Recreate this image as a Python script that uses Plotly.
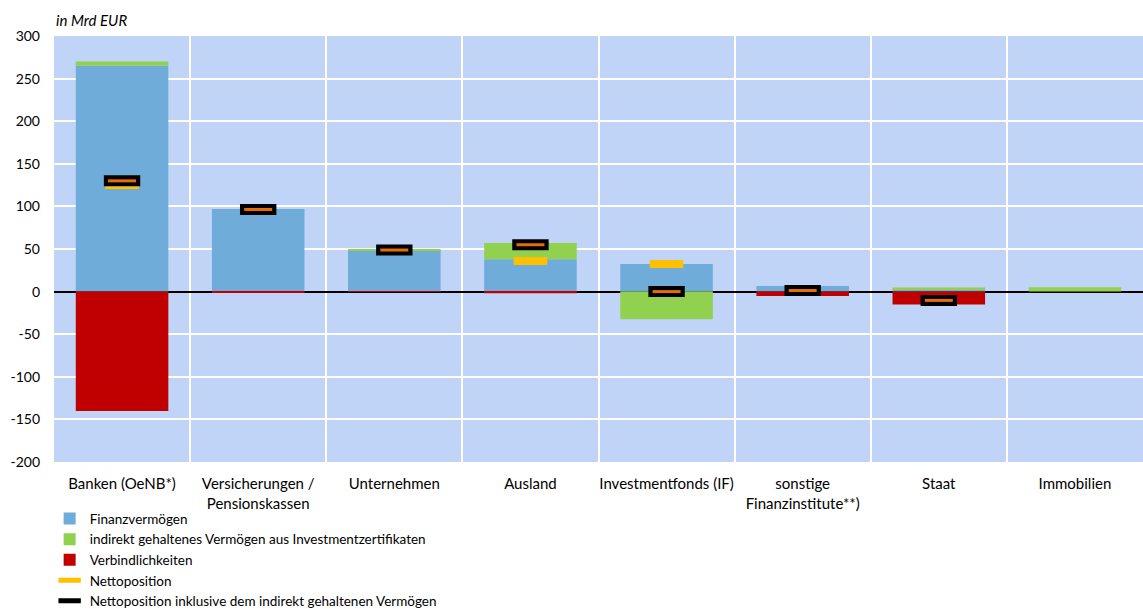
import plotly.graph_objects as go

# Sectors on the x axis
categories = [
    "Banken (OeNB*)",
    "Versicherungen /<br>Pensionskassen",
    "Unternehmen",
    "Ausland",
    "Investmentfonds (IF)",
    "sonstige<br>Finanzinstitute**)",
    "Staat",
    "Immobilien",
]

# Values in Mrd EUR
finanzvermoegen = [265, 97, 48.8, 38, 32.5, 6.5, 2.7, 0]
indirekt = [5, 0, 0.3, 19, -32.5, 0, 2.0, 5]
verbindlichkeiten = [-140, -0.6, -0.3, -2, 0, -5.2, -15, 0]
nettoposition = [125, 96.4, 48.5, 36, 32.5, 1.3, -12.3, None]
netto_inkl = [130, 96.4, 48.8, 55, 0, 1.3, -10.3, None]

# Y axis ticks and their labels (plain hyphen for negatives)
y_ticks = [300, 250, 200, 150, 100, 50, 0, -50, -100, -150, -200]
y_tick_labels = [str(v) for v in y_ticks]

xpos = list(range(len(categories)))
font_family = "Lato, 'Open Sans', sans-serif"

fig = go.Figure()

fig.add_trace(go.Bar(
    x=xpos, y=finanzvermoegen, name="Finanzvermögen",
    marker=dict(color="#6FACD9", line=dict(width=0)), width=0.68,
))
fig.add_trace(go.Bar(
    x=xpos, y=indirekt, name="indirekt gehaltenes Vermögen aus Investmentzertifikaten",
    marker=dict(color="#92D050", line=dict(width=0)), width=0.68,
))
fig.add_trace(go.Bar(
    x=xpos, y=verbindlichkeiten, name="Verbindlichkeiten",
    marker=dict(color="#C00000", line=dict(width=0)), width=0.68,
))
fig.add_trace(go.Scatter(
    x=xpos, y=nettoposition, name="Nettoposition", mode="markers",
    marker=dict(symbol="line-ew", size=24, color="#FFC000",
                line=dict(width=8, color="#FFC000")),
))
fig.add_trace(go.Scatter(
    x=xpos, y=netto_inkl, name="Nettoposition inklusive dem indirekt gehaltenen Vermögen",
    mode="markers",
    marker=dict(symbol="line-ew", size=26, color="#000000",
                line=dict(width=11, color="#000000")),
))
fig.add_trace(go.Scatter(
    x=xpos, y=netto_inkl, mode="markers", showlegend=False, hoverinfo="skip",
    marker=dict(symbol="line-ew", size=20, color="#E46C0A",
                line=dict(width=3, color="#E46C0A")),
))

fig.update_layout(
    barmode="relative",
    width=1143, height=609,
    margin=dict(l=54, r=0, t=36, b=147, autoexpand=False),
    paper_bgcolor="white",
    plot_bgcolor="#C0D4F8",
    font=dict(family=font_family, size=14, color="#000000"),
    showlegend=True,
    legend=dict(
        x=-0.004, y=-0.097, xanchor="left", yanchor="top",
        orientation="v", bgcolor="rgba(0,0,0,0)",
        font=dict(family=font_family, size=13.5, color="#000000"),
        itemwidth=30, tracegroupgap=0,
    ),
    annotations=[dict(
        text="<i>in Mrd EUR</i>", xref="paper", yref="paper",
        x=0.0, y=1.012, xanchor="left", yanchor="bottom", showarrow=False,
        font=dict(family=font_family, size=15, color="#000000"),
    )],
)

fig.update_xaxes(
    range=[-0.5, len(categories) - 0.5],
    tickmode="array", tickvals=xpos, ticktext=categories,
    showgrid=False, zeroline=False, ticks="", showline=False,
    ticklabelstandoff=11,
    tickfont=dict(family=font_family, size=15),
    minor=dict(tickmode="array", tickvals=[i + 0.5 for i in xpos[:-1]],
               showgrid=True, gridcolor="white", gridwidth=2, ticks=""),
)
fig.update_yaxes(
    range=[-200, 300],
    tickmode="array", tickvals=y_ticks, ticktext=y_tick_labels,
    showgrid=True, gridcolor="white", gridwidth=2,
    zeroline=True, zerolinecolor="#000000", zerolinewidth=1.5,
    ticks="", showline=False,
    ticklabelstandoff=13,
    tickfont=dict(family=font_family, size=14),
)

fig.write_html("out.html")
